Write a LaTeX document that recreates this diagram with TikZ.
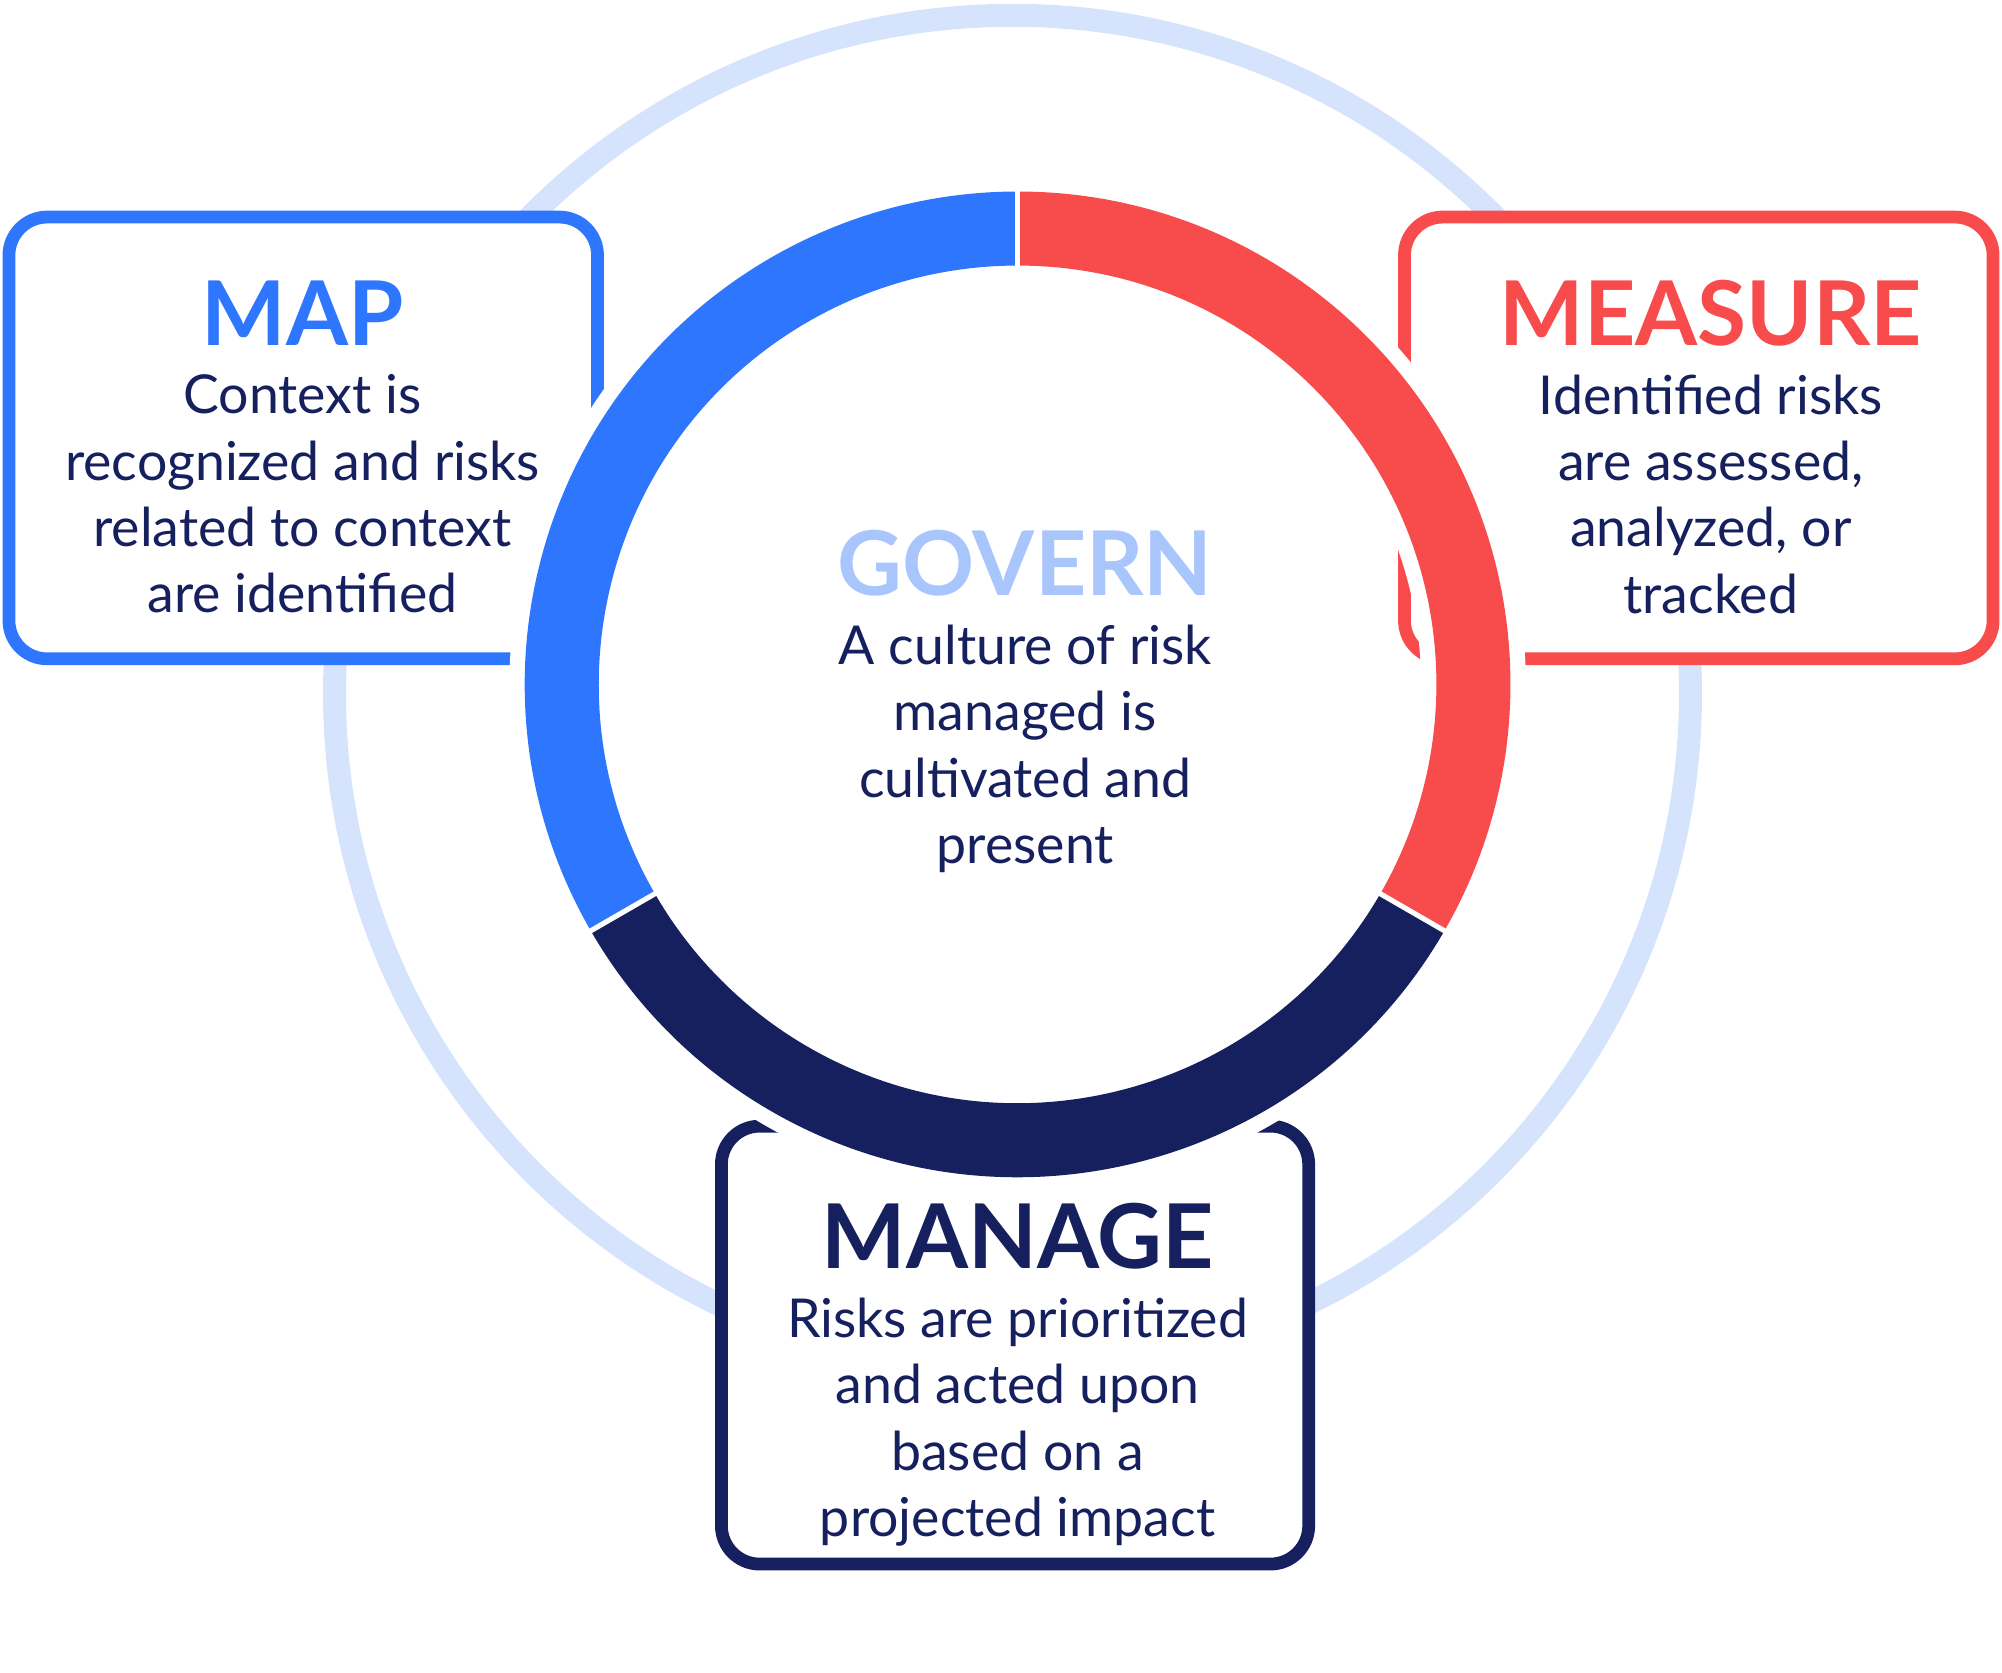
\documentclass[tikz,border=0pt]{standalone}
\usepackage{fontspec}
\setmainfont{Lato}
\definecolor{cblue}{HTML}{2F76FF}
\definecolor{cred}{HTML}{F84B4B}
\definecolor{cnavy}{HTML}{16205E}
\definecolor{cgov}{HTML}{A9C6FC}
\definecolor{clight}{HTML}{D6E3FD}
\begin{document}
\begin{tikzpicture}[x=0.5pt,y=-0.5pt,
  box/.style={draw=#1,line width=5pt,fill=white,rounded corners=15pt},
  ttl/.style={font=\fontsize{35}{40}\selectfont\bfseries,text=#1,inner sep=0},
  body/.style={font=\fontsize{21}{26}\selectfont,text=cnavy,align=center,inner sep=0,anchor=north}]
\useasboundingbox (0,0) rectangle (1568,1310);
\coordinate (c) at (797,536);
\draw[clight,line width=9pt] (793,543) circle[radius=531];
\draw[box=cblue] (7,170) rectangle (468,516);
\draw[box=cred] (1100,170) rectangle (1561,516);
\draw[box=cnavy] (565,882) rectangle (1025,1225);
% white halo
\draw[white,line width=41pt] (c) circle[radius=357];
\draw[cblue,line width=29pt] ([shift={(-210:357)}]c) arc[start angle=-210,end angle=-90,radius=357];
\draw[cnavy,line width=29pt] ([shift={(-330:357)}]c) arc[start angle=-330,end angle=-210,radius=357];
\draw[cred,line width=29pt] ([shift={(-450:357)}]c) arc[start angle=-450,end angle=-330,radius=357];
\foreach \a in {-90,-210,-330}
  \draw[white,line width=2pt] ([shift={(\a:320)}]c) -- ([shift={(\a:395)}]c);
% text
\node[ttl=cblue] (mapt) at (237,245) {MAP};
\node[body] (mapb) at (237,293) {Context is\\recognized and risks\\related to context\\are identified};
\node[ttl=cred] (meat) at (1340,245) {MEASURE};
\node[body] (meab) at (1340,293) {Identified risks\\are assessed,\\analyzed, or\\tracked};
\node[ttl=cgov] (govt) at (803,441) {GOVERN};
\node[body] (govb) at (803,489) {A culture of risk\\managed is\\cultivated and\\present};
\node[ttl=cnavy] (mant) at (797,968) {MANAGE};
\node[body] (manb) at (797,1016) {Risks are prioritized\\and acted upon\\based on a\\projected impact};
\end{tikzpicture}
\end{document}
